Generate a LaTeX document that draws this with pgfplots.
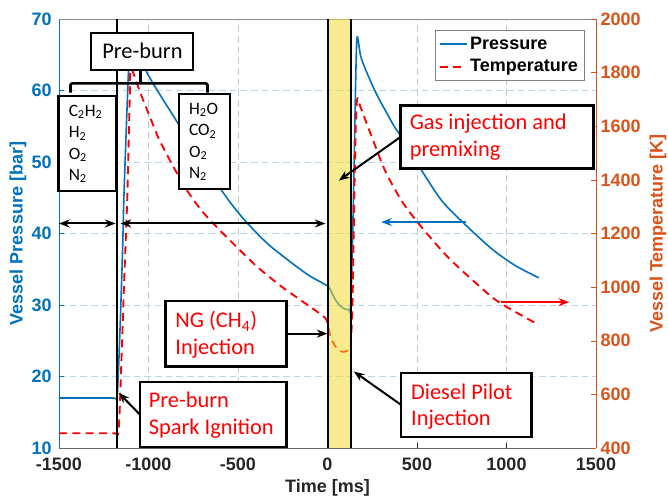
\documentclass[border=0pt]{standalone}
\usepackage{fontspec}
\setmainfont{Liberation Sans}
\newfontfamily\calibri{Carlito}
\usepackage{pgfplots}
\pgfplotsset{compat=1.18}
\usetikzlibrary{arrows.meta}

\definecolor{pblue}{RGB}{0,114,189}
\definecolor{torange}{RGB}{217,83,25}
\definecolor{bandyel}{RGB}{242,217,50}
\definecolor{annred}{RGB}{255,0,0}
\definecolor{axgray}{RGB}{38,38,38}

\newcommand{\tickfont}{\fontsize{13.5}{16}\selectfont\bfseries}
\newcommand{\annfont}{\calibri\fontsize{16.8}{20}\selectfont}
\newcommand{\specfont}{\calibri\fontsize{13}{16}\selectfont}

\pgfplotsset{
  chartbase/.style={
    at={(0pt,0pt)}, anchor=south west,
    scale only axis, width=402.75pt, height=321.75pt,
    xmin=-1500, xmax=1500, clip=false,
    tick align=inside,
    /pgf/number format/assume math mode=true,
    /pgf/number format/1000 sep={},
    major tick length=4pt,
  },
}
\tikzset{
  arr/.style={line width=1.5pt, -{Stealth[length=8pt,width=6pt]}},
  dblarr/.style={line width=1.5pt, {Stealth[length=8pt,width=6pt]}-{Stealth[length=8pt,width=6pt]}},
  annbox/.style={draw=black, fill=white, line width=1.6pt},
}

\begin{document}
\begin{tikzpicture}
\path[use as bounding box] (-44.25pt,-39pt) rectangle (456.75pt,336pt);

% ---------- pressure axis (left) ----------
\begin{axis}[chartbase,
  ymin=10, ymax=70,
  xtick={-1500,-1000,...,1500}, ytick={10,20,...,70},
  tick pos=left,
  axis line style={draw=none},
  xmajorgrids, ymajorgrids,
  x grid style={black!22, line width=0.5pt, dash pattern=on 5pt off 3pt},
  y grid style={pblue!28, line width=0.5pt, dash pattern=on 5pt off 3pt},
  xticklabel style={font=\tickfont, text=axgray, yshift=-4pt},
  yticklabel style={font=\tickfont, text=pblue, xshift=-2pt},
  xtick style={axgray}, ytick style={pblue},
  xlabel={Time [ms]}, ylabel={Vessel Pressure [bar]},
  every axis x label/.style={at={(axis description cs:0.5,-0.0932)}, anchor=center, font=\tickfont, text=axgray},
  every axis y label/.style={at={(axis description cs:-0.0764,0.5)}, anchor=center, rotate=90, font=\tickfont, text=pblue},
]
\addplot[pblue, line width=1.2pt, smooth, tension=0.45] coordinates {
  (-1500,17.0) (-1200,17.0) (-1176,17.0) (-1160,26.0) (-1145,37.5) (-1138,44.6)
  (-1125,54.0) (-1111,63.1) (-1100,65.3) (-1090,65.8) (-1070,65.2) (-1050,64.4)
  (-1026,63.3) (-989,61.6) (-933,59.3) (-840,55.6) (-747,51.7) (-691,49.6)
  (-616,46.9) (-542,44.3) (-468,42.0) (-393,40.0) (-318,38.2) (-169,35.3)
  (-95,34.0) (-2,32.7) (15,32.2) (30,31.4) (50,30.5) (75,29.8) (100,29.4)
  (118,29.4) (130,30.0) (145,45.0) (158,62.0) (166,67.5) (190,64.4) (268,59.8)
  (370,55.1) (402,53.9) (529,48.7) (641,44.5) (771,41.2) (920,37.8) (1050,35.5)
  (1180,33.8)
};
\draw[pblue, line width=0.7pt] (rel axis cs:0,0) -- (rel axis cs:0,1);
\draw[black!60, line width=0.7pt] (rel axis cs:0,0) -- (rel axis cs:1,0);
\draw[black!45, line width=0.7pt] (rel axis cs:0,1) -- (rel axis cs:1,1);
\end{axis}

% ---------- temperature axis (right) ----------
\begin{axis}[chartbase,
  ymin=400, ymax=2000, ytick={400,600,...,2000},
  axis x line=none, axis y line*=right,
  y axis line style={torange, line width=0.7pt},
  ytick style={torange},
  yticklabel style={font=\tickfont, text=torange},
  ylabel={Vessel Temperature [K]},
  every axis y label/.style={at={(axis description cs:1.1155,0.5)}, anchor=center, rotate=90, font=\tickfont, text=torange},
]
\addplot[annred, line width=1.4pt, dash pattern=on 6pt off 4pt, smooth, tension=0.45] coordinates {
  (-1500,455) (-1220,455) (-1184,455) (-1166,470) (-1150,750) (-1135,1040)
  (-1119,1325) (-1105,1700) (-1098,1815) (-1045,1723) (-989,1630) (-933,1540)
  (-803,1380) (-709,1290) (-616,1222) (-505,1148) (-393,1076) (-263,1005)
  (-151,952) (-21,890) (0,865) (17,815) (45,778) (82,759) (119,766) (130,790)
  (140,950) (150,1350) (158,1600) (166,1702) (184,1672) (250,1556) (324,1431)
  (417,1319) (520,1228) (678,1108) (883,983) (976,936) (1180,859)
};
\end{axis}

% ---------- events, annotations and legend ----------
\begin{axis}[chartbase,
  ymin=10, ymax=70, hide axis,
  legend style={at={(0.9795,0.9744)}, anchor=north east, draw=black!50,
    line width=0.6pt, fill=white, font=\tickfont, cells={anchor=west},
    inner sep=3pt, row sep=2pt},
  legend image code/.code={\draw[#1] (0pt,0pt) -- (20pt,0pt);},
]
\addlegendimage{pblue, line width=1.2pt}
\addlegendentry{Pressure}
\addlegendimage{annred, line width=1.4pt, dash pattern=on 6pt off 4pt}
\addlegendentry{Temperature}

% injection window
\fill[bandyel, opacity=0.55] (axis cs:0,10) rectangle (axis cs:131,70);
\draw[line width=1.5pt] (axis cs:0,10) -- (axis cs:0,70);
\draw[line width=1.5pt] (axis cs:131,10) -- (axis cs:131,70);
% spark ignition
\draw[line width=1.5pt] (axis cs:-1175,10) -- (axis cs:-1175,70);

% durations
\draw[dblarr] (axis cs:-1500,41.4) -- (axis cs:-1184,41.4);
\draw[dblarr] (axis cs:-1156,41.4) -- (axis cs:-11,41.4);

% axis pointers
\draw[pblue, line width=1.1pt, -{Stealth[length=8pt,width=6pt]}] (axis cs:775,41.6) -- (axis cs:300,41.6);
\draw[annred, line width=1.1pt, -{Stealth[length=8pt,width=6pt]}] (axis cs:970,30.4) -- (axis cs:1350,30.4);

% pre-burn mixture
\draw[annbox] (axis cs:-1319,68.1) rectangle (axis cs:-749,62.9);
\node[font=\annfont] at (axis cs:-1034,65.5) {Pre-burn};
\draw[line width=2pt, rounded corners=1.5pt] (axis cs:-1436,59.7) -- (axis cs:-1436,61.0) -- (axis cs:-670,61.0) -- (axis cs:-670,59.7);
\draw[line width=2pt] (axis cs:-1045,61.0) -- (axis cs:-1045,62.9);

\draw[annbox] (axis cs:-1503,59.2) rectangle (axis cs:-1179,45.9);
\node[font=\specfont, anchor=west, align=left, inner sep=0pt] at (axis cs:-1447,52.5)
  {C\textsubscript{2}H\textsubscript{2}\\H\textsubscript{2}\\O\textsubscript{2}\\N\textsubscript{2}};
\draw[annbox] (axis cs:-832,59.5) rectangle (axis cs:-547,46.2);
\node[font=\specfont, anchor=west, align=left, inner sep=0pt] at (axis cs:-775,52.8)
  {H\textsubscript{2}O\\CO\textsubscript{2}\\O\textsubscript{2}\\N\textsubscript{2}};

% gas injection
\draw[annbox] (axis cs:408,57.9) rectangle (axis cs:1486,49.1);
\node[font=\annfont, text=annred, anchor=west, align=left, inner sep=0pt] at (axis cs:458,53.5)
  {Gas injection and\\premixing};
\draw[arr] (axis cs:408,53.5) -- (axis cs:63,47.4);

% NG injection
\draw[annbox] (axis cs:-905,30.5) rectangle (axis cs:-229,21.4);
\node[font=\annfont, text=annred, anchor=west, align=left, inner sep=0pt] at (axis cs:-851,25.8)
  {NG (CH\textsubscript{4})\\Injection};
\draw[arr] (axis cs:-229,26.0) -- (axis cs:0,26.0);

% spark ignition
\draw[annbox] (axis cs:-1049,19.25) rectangle (axis cs:-229,10.15);
\node[font=\annfont, text=annred, anchor=west, align=left, inner sep=0pt] at (axis cs:-1000,14.6)
  {Pre-burn\\Spark Ignition};
\draw[arr] (axis cs:-1049,14.7) -- (axis cs:-1166,17.7);

% diesel pilot
\draw[annbox] (axis cs:413,20.5) rectangle (axis cs:1140,11.5);
\node[font=\annfont, text=annred, anchor=west, align=left, inner sep=0pt] at (axis cs:466,15.8)
  {Diesel Pilot\\Injection};
\draw[arr] (axis cs:413,16.0) -- (axis cs:147,20.7);
\end{axis}
\end{tikzpicture}
\end{document}
